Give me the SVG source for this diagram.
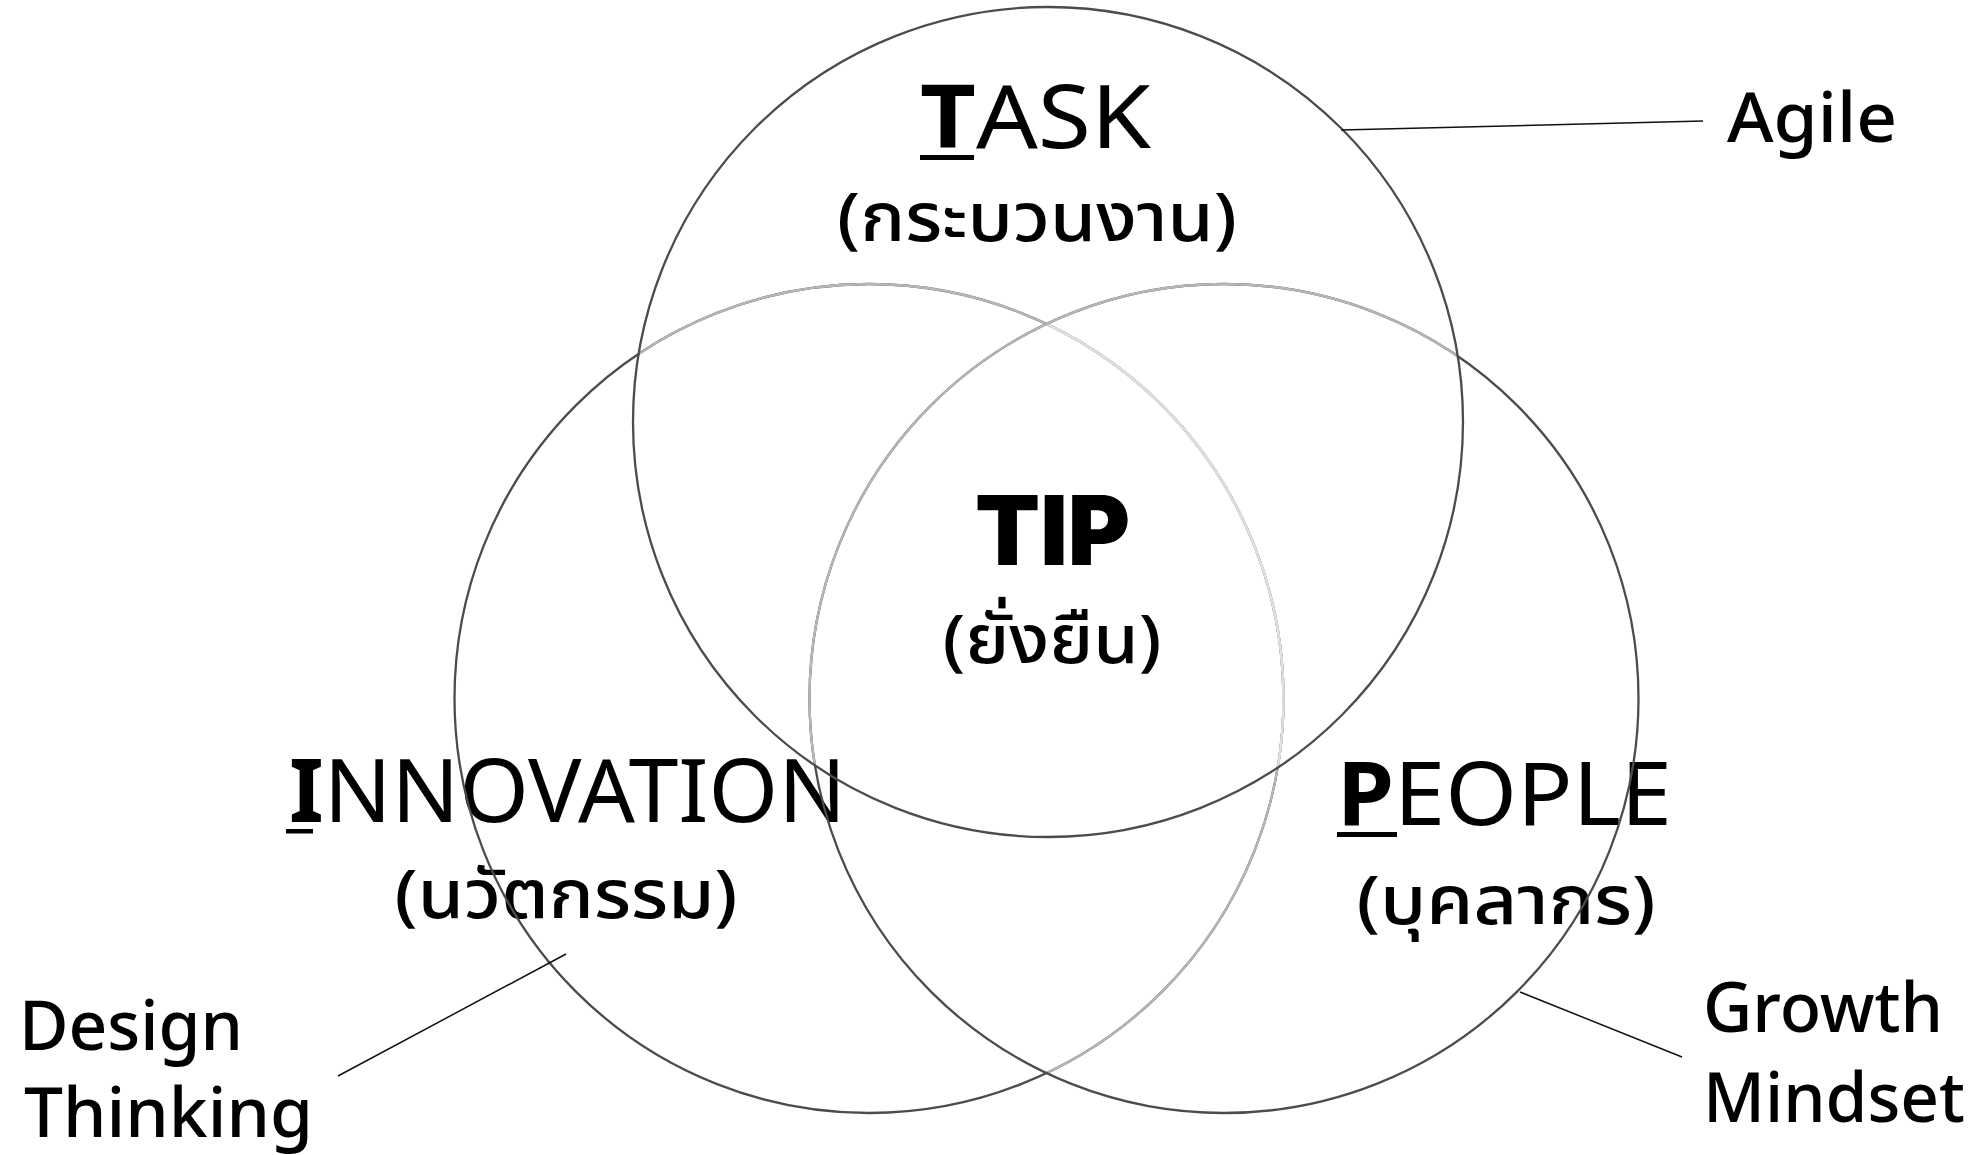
<svg xmlns="http://www.w3.org/2000/svg" width="1985" height="1155" viewBox="0 0 1985 1155">
  <style>
    .lat { font-family: "Noto Sans", "Open Sans", sans-serif; fill: #000; }
    .th { font-family: "Noto Sans Thai", "Noto Sans Thai UI", "Noto Sans", sans-serif; fill: #000; font-size: 68px; text-anchor: middle; font-weight: 500; }
    .big { font-size: 88px; }
    .side { font-size: 69px; font-weight: 500; }
    .b { font-weight: bold; }
    .ring { fill: none; stroke-width: 2.3; }
    .dark { stroke: #4c4c4c; }
    .light { stroke: #b6b6b6; }
    .vlight { stroke: #e0e0e0; }
    .conn { stroke: #111; stroke-width: 1.5; fill: none; }
  </style>
  <defs>
    <circle id="cTop" cx="1048" cy="422" r="415"/>
    <circle id="cLeft" cx="869" cy="698.5" r="414.5"/>
    <circle id="cRight" cx="1224" cy="698.5" r="414.5"/>
    <clipPath id="inTop"><use href="#cTop"/></clipPath>
    <clipPath id="inRight"><use href="#cRight"/></clipPath>
  </defs>
  <rect width="1985" height="1155" fill="#fff"/>

  <g id="task">
    <text class="lat big" x="920" y="148" textLength="231" lengthAdjust="spacingAndGlyphs"><tspan class="b">T</tspan>ASK</text>
    <rect x="920" y="155" width="54" height="5" fill="#000"/>
    <text class="th" x="1037" y="241" textLength="400" lengthAdjust="spacingAndGlyphs">(กระบวนงาน)</text>
  </g>
  <g id="innovation">
    <text class="lat big" x="289" y="822" textLength="557" lengthAdjust="spacingAndGlyphs"><tspan class="b">I</tspan>NNOVATION</text>
    <rect x="286" y="829" width="27" height="4.5" fill="#000"/>
    <text class="th" x="566" y="918" textLength="343" lengthAdjust="spacingAndGlyphs">(นวัตกรรม)</text>
  </g>
  <g id="people">
    <text class="lat big" x="1337" y="825" textLength="335" lengthAdjust="spacingAndGlyphs"><tspan class="b">P</tspan>EOPLE</text>
    <rect x="1337" y="832" width="60" height="5" fill="#000"/>
    <text class="th" x="1506" y="924" textLength="299" lengthAdjust="spacingAndGlyphs">(บุคลากร)</text>
  </g>
  <g id="tip">
    <text x="975" y="565" font-family="Inter, 'Noto Sans', sans-serif" font-size="96" font-weight="900" fill="#000" textLength="155" lengthAdjust="spacingAndGlyphs">TIP</text>
    <text class="th" x="1052" y="663" textLength="219" lengthAdjust="spacingAndGlyphs">(ยั่งยืน)</text>
  </g>

  <g id="circles">
    <g id="circle-innovation">
      <use href="#cLeft" class="ring dark"/>
      <use href="#cLeft" class="ring light" clip-path="url(#inTop)"/>
      <use href="#cLeft" class="ring light" clip-path="url(#inRight)"/>
      <g clip-path="url(#inTop)"><use href="#cLeft" class="ring vlight" clip-path="url(#inRight)"/></g>
    </g>
    <g id="circle-people">
      <use href="#cRight" class="ring dark"/>
      <use href="#cRight" class="ring light" clip-path="url(#inTop)"/>
    </g>
    <g id="circle-task">
      <use href="#cTop" class="ring dark"/>
    </g>
  </g>

  <g id="connectors">
    <line class="conn" x1="1341" y1="130" x2="1703" y2="121"/>
    <line class="conn" x1="566" y1="954" x2="338" y2="1076"/>
    <line class="conn" x1="1520" y1="992" x2="1682" y2="1057"/>
  </g>

  <g id="agile">
    <text class="lat side" x="1727" y="142" textLength="170" lengthAdjust="spacingAndGlyphs">Agile</text>
  </g>
  <g id="design-thinking">
    <text class="lat side" x="19" y="1050" textLength="224" lengthAdjust="spacingAndGlyphs">Design</text>
    <text class="lat side" x="24" y="1137" textLength="289" lengthAdjust="spacingAndGlyphs">Thinking</text>
  </g>
  <g id="growth-mindset">
    <text class="lat side" x="1703" y="1032" textLength="240" lengthAdjust="spacingAndGlyphs">Growth</text>
    <text class="lat side" x="1703" y="1122" textLength="262" lengthAdjust="spacingAndGlyphs">Mindset</text>
  </g>
</svg>
